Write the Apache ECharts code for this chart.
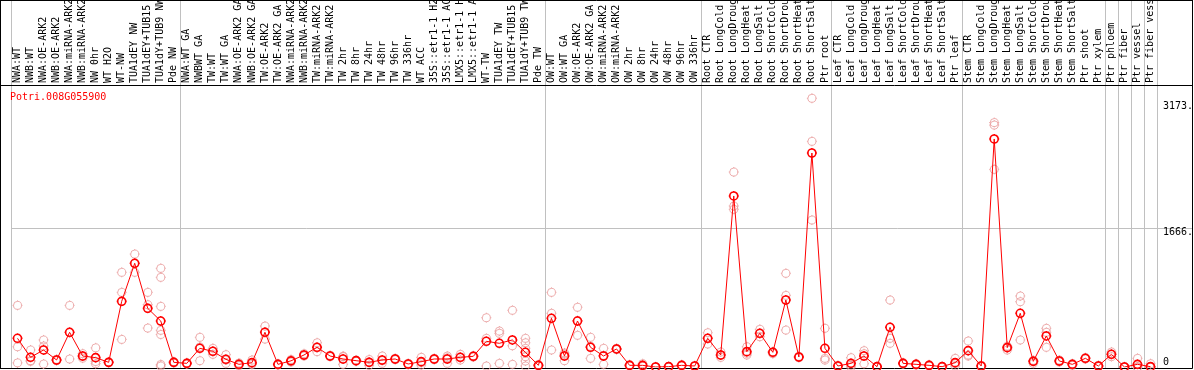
<!DOCTYPE html>
<html><head><meta charset="utf-8">
<script src="https://cdn.jsdelivr.net/npm/echarts@6/dist/echarts.min.js"></script>
<style>html,body{margin:0;padding:0;background:#fff}#c{width:1194px;height:370px}</style>
</head><body><div id="c"></div>
<script>
const chartTitle = 'Potri.008G055900';
const categories = [
'NWA:WT','NWB:WT','NWA:OE-ARK2','NWB:OE-ARK2','NWA:miRNA-ARK2','NWB:miRNA-ARK2','NW 0hr','WT H2O','WT-NW','TUA1dEY NW','TUA1dEY+TUB15 NW','TUA1dY+TUB9 NW','Pde NW',
'NWA:WT GA','NWBWT GA','TW:WT','TW:WT GA','NWA:OE-ARK2 GA','NWB:OE-ARK2 GA','TW:OE-ARK2','TW:OE-ARK2 GA','NWA:miRNA-ARK2 GA','NWB:miRNA-ARK2 GA','TW:miRNA-ARK2','TW:miRNA-ARK2 GA','TW 2hr','TW 8hr','TW 24hr','TW 48hr','TW 96hr','TW 336hr','WT ACC','35S::etr1-1 H2O','35S::etr1-1 ACC','LMX5::etr1-1 H2O','LMX5::etr1-1 ACC','WT-TW','TUA1dEY TW','TUA1dEY+TUB15 TW','TUA1dY+TUB9 TW','Pde TW',
'OW:WT','OW:WT GA','OW:OE-ARK2','OW:OE-ARK2 GA','OW:miRNA-ARK2','OW:miRNA-ARK2 GA','OW 2hr','OW 8hr','OW 24hr','OW 48hr','OW 96hr','OW 336hr',
'Root CTR','Root LongCold','Root LongDrought','Root LongHeat','Root LongSalt','Root ShortCold','Root ShortDrought','Root ShortHeat','Root ShortSalt','Ptr root',
'Leaf CTR','Leaf LongCold','Leaf LongDrought','Leaf LongHeat','Leaf LongSalt','Leaf ShortCold','Leaf ShortDrought','Leaf ShortHeat','Leaf ShortSalt','Ptr leaf',
'Stem CTR','Stem LongCold','Stem LongDrought','Stem LongHeat','Stem LongSalt','Stem ShortCold','Stem ShortDrought','Stem ShortHeat','Stem ShortSalt','Ptr shoot','Ptr xylem',
'Ptr phloem','Ptr fiber','Ptr vessel','Ptr fiber vessel'
];
const groupSizes = [13, 28, 12, 10, 10, 11, 1, 1, 1, 1];
const means = [
344,116,204,84,416,132,112,56,787,1243,703,551,56,
44,224,188,92,32,52,416,32,74,144,236,132,96,76,56,84,96,36,64,96,96,116,128,308,284,324,176,20,
584,132,551,236,132,216,20,20,0,4,20,12,
344,144,2050,184,404,176,803,120,2565,224,
12,44,132,4,476,44,32,20,4,52,
196,12,2733,232,644,68,372,72,32,104,12,
152,0,32,4
];
const replicates = [
[739,243,50],[204,76,68],[324,252,36],[92,84,76],[739,413,96],[160,130,106],[230,66,40],[62,56,50],[1135,895,331],[1354,1240,1135],[895,747,467],[1183,1075,727,440,390,30,12],[64,56,48],
[52,44,36],[356,240,76],[224,188,152],[148,84,44],[48,32,16],[84,42,30],[491,420,335],[40,32,24],[90,72,60],[160,140,132],[291,232,184],[140,132,124],[130,124,32],[84,76,68],[90,58,20],[132,76,44],[104,96,88],[44,36,28],[116,52,24],[104,96,88],[132,112,44],[152,112,84],[136,128,120],[591,344,12],[431,404,44],[680,255,32],[344,291,224,124,72,12],[28,20,12],
[895,644,204],[168,152,76],[716,557,380],[356,248,104],[224,140,32],[224,216,208],[28,20,12],[40,12,8],[4,0,0],[8,4,0],[28,20,12],[16,12,8],
[411,344,276],[180,144,116],[2337,1930,1890],[243,165,144],[452,400,363],[184,180,160],[1123,859,443],[128,120,112],[3221,2705,1762],[464,104,84],
[20,12,4],[112,20,0],[196,160,40],[8,4,0],[803,344,284],[52,44,36],[40,32,24],[28,20,12],[8,4,0],[104,40,12],
[312,144,132],[20,12,4],[2930,2900,2369],[250,240,204],[851,783,324],[80,68,44],[464,416,236],[84,72,60],[40,32,20],[112,104,96],[20,12,4],
[180,152,124],[4,0,0],[104,0,0],[40,0,0]
];
const yTickValues = [3173, 1666, 0];
const yTickLabels = ['3173.', '1666.', '0'];
const yGridValues = [1666];

const FONT = 'DejaVu Sans Mono';
const RED = '#ff0000';
const PINK = '#e99a9a';
const GRAY = '#c0c0c0';
const ring = 'path://M10 2 A8 8 0 1 1 9.99 2 Z M10 0 V2 M10 18 V20 M0 10 H2 M18 10 H20';

const scatterData = [];
replicates.forEach((arr, i) => arr.forEach(v => scatterData.push([i, v])));

const chart = echarts.init(document.getElementById('c'), null, {renderer: 'canvas'});
chart.setOption({
  animation: false,
  backgroundColor: '#fff',
  grid: {left: 11, right: 37, top: 85, bottom: 3, containLabel: false, outerBoundsMode: 'none'},
  xAxis: {
    type: 'category', data: categories, position: 'top', boundaryGap: true,
    axisLine: {show: false}, axisTick: {show: false}, splitLine: {show: false},
    axisLabel: {rotate: 90, interval: 0, margin: 2, fontFamily: FONT, fontSize: 10, color: '#000'}
  },
  yAxis: {type: 'value', min: 0, max: 3380, show: false},
  series: [
    {type: 'scatter', data: scatterData, symbol: ring, symbolSize: 10, z: 3,
     itemStyle: {color: 'rgba(0,0,0,0)', borderColor: PINK, borderWidth: 1}},
    {type: 'line', data: means, symbol: ring, symbolSize: 10, showAllSymbol: true, z: 4,
     lineStyle: {color: RED, width: 1}, itemStyle: {color: 'rgba(0,0,0,0)', borderColor: RED, borderWidth: 1.6}}
  ]
});

const xAt = i => chart.convertToPixel({xAxisIndex: 0}, i);
const yAt = v => chart.convertToPixel({yAxisIndex: 0}, v);
const band = xAt(1) - xAt(0);
const W = 1194, RIGHT = 1192.5, BOTTOM = 368.5, HEAD = 85.5;
const g = [];
const line = (x1, y1, x2, y2, color, z) => g.push({type: 'line', z: z, silent: true,
  shape: {x1, y1, x2, y2}, style: {stroke: color, lineWidth: 1}});
// group separators
let idx = 0;
let x0 = Math.round(xAt(0) - band / 2) + 0.5;
line(x0, 0, x0, BOTTOM, GRAY, 0);
groupSizes.forEach(n => {
  idx += n;
  const x = Math.round(xAt(idx - 1) + band / 2) + 0.5;
  line(x, 0, x, BOTTOM, GRAY, 0);
});
yGridValues.forEach(v => { const y = Math.round(yAt(v)) + 0.5; line(x0, y, RIGHT, y, GRAY, 0); });
// frame
line(0.5, 0, 0.5, BOTTOM, '#000', 1);
line(RIGHT, 0, RIGHT, BOTTOM, '#000', 1);
line(0, 0.5, RIGHT, 0.5, '#000', 1);
line(0, HEAD, RIGHT, HEAD, '#000', 1);
line(0, BOTTOM, RIGHT, BOTTOM, '#000', 1);
// y tick labels
yTickValues.forEach((v, i) => {
  const y = yAt(v);
  g.push({type: 'text', z: 10, silent: true, x: 1163, y: v === 0 ? y - 5 : y + 4,
    style: {text: yTickLabels[i], fill: '#000', font: '10px ' + FONT, textAlign: 'left', textVerticalAlign: 'middle'}});
});
// title
g.push({type: 'text', z: 10, silent: true, x: 10, y: 97,
  style: {text: chartTitle, fill: RED, font: '10px ' + FONT, textAlign: 'left', textVerticalAlign: 'middle'}});
chart.setOption({graphic: g});
</script></body></html>
